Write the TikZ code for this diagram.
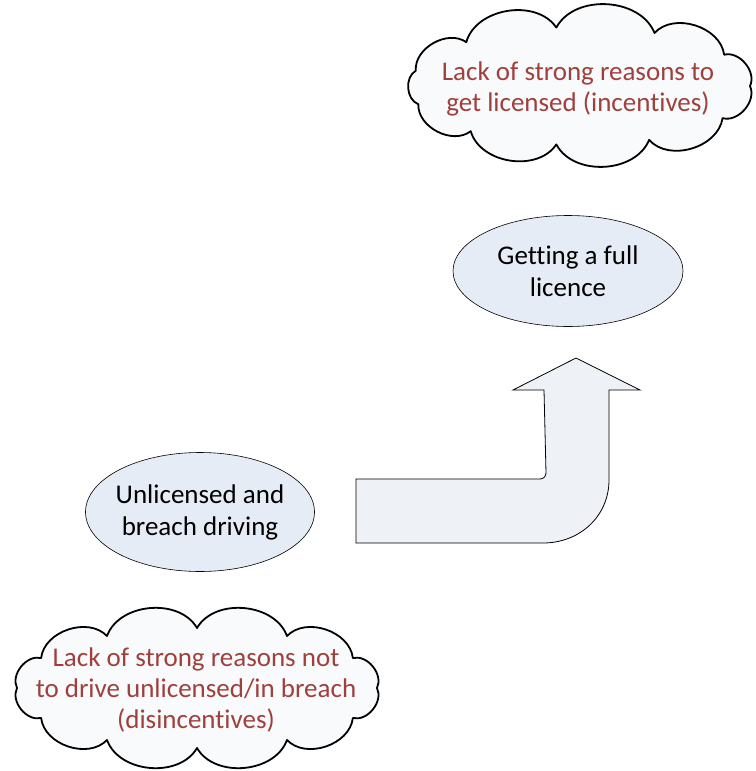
\documentclass[tikz,border=0pt]{standalone}
\usepackage{fontspec}
\setmainfont[Ligatures=CommonOff]{Carlito}
\usetikzlibrary{shapes.geometric}
\definecolor{cloudtxt}{HTML}{A0403D}
\definecolor{ellfill}{HTML}{E6ECF6}
\definecolor{cloudfill}{HTML}{F9FAFC}
\definecolor{arrfill}{HTML}{EEF1F6}
\tikzset{
  cloudline/.style={draw=black, line width=1.8pt, fill=cloudfill, line join=round},
  cloudtext/.style={text=cloudtxt, align=center, font=\fontsize{27}{31}\selectfont, inner sep=0pt},
  ellbox/.style={ellipse, draw=black, line width=0.6pt, fill=ellfill, align=center,
    font=\fontsize{27}{32}\selectfont, inner sep=-20pt},
  bigarrow/.style={draw=black, line width=0.8pt, fill=arrfill, line join=miter}
}
\begin{document}
\begin{tikzpicture}[x=1pt,y=-1pt]
\useasboundingbox (0,0) rectangle (755,771);
% top cloud
\draw[cloudline] ([shift={(0:170 and 59)}]580,86)
  \foreach \a in {33,66,98,130,162,195,228,262,296,328,360} { to[bend left=65] ([shift={(\a:170 and 59)}]580,86) } -- cycle;
\node[cloudtext] (c1) at (578,89) {Lack of strong reasons to\\get licensed (incentives)};
% bottom cloud
\draw[cloudline] ([shift={(0:180 and 60)}]197,688)
  \foreach \a in {30,60,90,120,150,180,210,240,270,300,330,360} { to[bend left=65] ([shift={(\a:180 and 60)}]197,688) } -- cycle;
\node[cloudtext] (c2) at (196,690) {Lack of strong reasons not\\to drive unlicensed/in breach\\(disincentives)};
\node[ellbox, minimum width=230pt, minimum height=111pt] (e1) at (568,271) {Getting a full\\licence};
\node[ellbox, minimum width=229pt, minimum height=119pt] (e2) at (200,512) {Unlicensed and\\breach driving};
\draw[bigarrow] (356,479) -- (540,479) to[out=0,in=-90] (546,473) -- (544,390) -- (513,390) -- (576,358) -- (640,390)
  -- (609,390) -- (609,480) .. controls (609,516) and (580,543) .. (543,543) -- (356,543) -- cycle;
\end{tikzpicture}
\end{document}
